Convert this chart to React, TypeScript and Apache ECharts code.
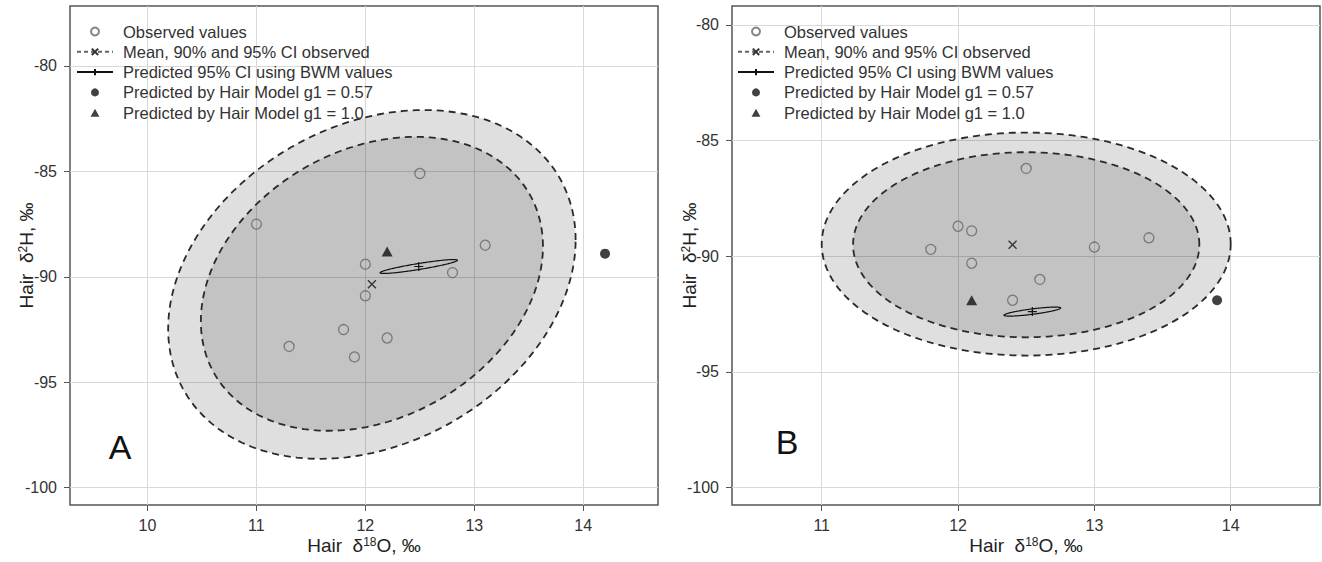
import React, { useEffect, useRef } from "react";
import * as echarts from "echarts";

// ---------- data ----------
const xTicksA = [10, 11, 12, 13, 14];
const xTicksB = [11, 12, 13, 14];
const yTicks = [-100, -95, -90, -85, -80];

const observedA = [
  [11.0, -87.5], [12.5, -85.1], [13.1, -88.5], [12.0, -89.4], [12.8, -89.8],
  [12.0, -90.9], [11.8, -92.5], [12.2, -92.9], [11.3, -93.3], [11.9, -93.8],
];
const meanA = [[12.06, -90.35]];
const bwmA = [[12.49, -89.51]];
const g057A = [[14.2, -88.9]];
const g10A = [[12.2, -88.8]];
// ellipse parameters: [centre x, centre y, half-extent x, half-extent y, correlation]
const ci95A = [[12.06, -90.36, 1.87, 8.27, 0.255]];
const ci90A = [[12.06, -90.33, 1.57, 6.97, 0.255]];
const bwmCiA = [[12.49, -89.51, 0.355, 0.33, 0.9]];

const observedB = [
  [12.5, -86.2], [12.0, -88.7], [12.1, -88.9], [11.8, -89.7], [12.1, -90.3],
  [12.6, -91.0], [12.4, -91.9], [13.0, -89.6], [13.4, -89.2],
];
const meanB = [[12.4, -89.5]];
const bwmB = [[12.545, -92.39]];
const g057B = [[13.9, -91.9]];
const g10B = [[12.1, -91.9]];
const ci95B = [[12.5, -89.47, 1.5, 4.82, 0.0]];
const ci90B = [[12.5, -89.5, 1.27, 4.0, 0.0]];
const bwmCiB = [[12.545, -92.39, 0.208, 0.195, 0.8]];

const legendNames = [
  "Observed values",
  "Mean, 90% and 95% CI observed",
  "Predicted 95% CI using BWM values",
  "Predicted by Hair Model g1 = 0.57",
  "Predicted by Hair Model g1 = 1.0",
];

// ---------- styles ----------
const FONT = "Liberation Sans, Arial, Helvetica, sans-serif";
const X_PATH = "path://M0,0L10,10M10,0L0,10";
const PLUS_PATH = "path://M5,0L5,10M0,5L10,5";
const TRI_PATH = "path://M5,0L10,9L0,9Z";

function ellipseRender(style: any) {
  return (params: any, api: any) => {
    const cx = api.value(0), cy = api.value(1), rx = api.value(2), ry = api.value(3), rho = api.value(4);
    const k = Math.sqrt(1 - rho * rho);
    const pts: number[][] = [];
    const n = 200;
    for (let i = 0; i < n; i++) {
      const t = (i / n) * Math.PI * 2;
      pts.push(api.coord([cx + rx * Math.cos(t), cy + ry * (rho * Math.cos(t) + k * Math.sin(t))]));
    }
    return { type: "polygon", shape: { points: pts }, style };
  };
}

const richSup = { sup: { fontSize: 12, verticalAlign: "top", color: "#222", fontFamily: FONT } };

function xAxis(gi: number, min: number, max: number, ticks: number[]) {
  return {
    type: "value", gridIndex: gi, min, max,
    name: "Hair  δ{sup|18}O, ‰", nameLocation: "middle", nameGap: 31, nameMoveOverlap: false,
    nameTextStyle: { fontSize: 19, color: "#222", fontFamily: FONT, rich: richSup },
    axisLine: { show: false },
    axisTick: { show: true, length: 6, customValues: ticks, lineStyle: { color: "#555", width: 1 } },
    axisLabel: { customValues: ticks, margin: 12, fontSize: 16, color: "#333", fontFamily: FONT },
    splitLine: { show: true, lineStyle: { color: "#d9d9d9", width: 1 } },
  };
}

function yAxis(gi: number, min: number, max: number, gap: number) {
  return {
    type: "value", gridIndex: gi, min, max,
    name: "Hair  δ{sup|2}H, ‰", nameLocation: "middle", nameGap: gap, nameRotate: 90, nameMoveOverlap: false,
    nameTextStyle: { fontSize: 19, color: "#222", fontFamily: FONT, rich: richSup },
    axisLine: { show: false },
    axisTick: { show: true, length: 6, customValues: yTicks, lineStyle: { color: "#555", width: 1 } },
    axisLabel: { customValues: yTicks, margin: 13, fontSize: 16, color: "#333", fontFamily: FONT },
    splitLine: { show: true, lineStyle: { color: "#d9d9d9", width: 1 } },
  };
}

const ringStyle = { fill: "rgba(0,0,0,0.125)", stroke: "#2a2a2a", lineWidth: 1.8, lineDash: [7, 5] };
const smallEllipseStyle = { fill: "none", stroke: "#111", lineWidth: 1.2 };

function panelSeries(gi: number, d: any) {
  return [
    { type: "custom", name: "ci95_" + gi, xAxisIndex: gi, yAxisIndex: gi, data: d.ci95, dimensions: ["x", "y", "rx", "ry", "rho"], encode: { x: 0, y: 1 }, renderItem: ellipseRender(ringStyle), z: 1, silent: true },
    { type: "custom", name: "ci90_" + gi, xAxisIndex: gi, yAxisIndex: gi, data: d.ci90, dimensions: ["x", "y", "rx", "ry", "rho"], encode: { x: 0, y: 1 }, renderItem: ellipseRender(ringStyle), z: 1, silent: true },
    { type: "custom", name: "bwmci_" + gi, xAxisIndex: gi, yAxisIndex: gi, data: d.bwmCi, dimensions: ["x", "y", "rx", "ry", "rho"], encode: { x: 0, y: 1 }, renderItem: ellipseRender(smallEllipseStyle), z: 3, silent: true },
    {
      type: "scatter", name: legendNames[0], xAxisIndex: gi, yAxisIndex: gi, data: d.obs,
      symbol: "circle", symbolSize: 10,
      itemStyle: { color: "rgba(0,0,0,0)", borderColor: "#666", borderWidth: 1.3 }, z: 4,
    },
    {
      type: "line", name: legendNames[1], xAxisIndex: gi, yAxisIndex: gi, data: d.mean,
      symbol: X_PATH, symbolSize: 8, showSymbol: true,
      itemStyle: { color: "none", borderColor: "#333", borderWidth: 1.3 },
      lineStyle: { color: "#666", width: 1.3, type: [4, 3] }, z: 4,
    },
    {
      type: "line", name: legendNames[2], xAxisIndex: gi, yAxisIndex: gi, data: d.bwm,
      symbol: PLUS_PATH, symbolSize: 9, showSymbol: true,
      itemStyle: { color: "none", borderColor: "#111", borderWidth: 1.2 },
      lineStyle: { color: "#111", width: 1.2, type: "solid" }, z: 4,
    },
    {
      type: "scatter", name: legendNames[3], xAxisIndex: gi, yAxisIndex: gi, data: d.g057,
      symbol: "circle", symbolSize: 10, itemStyle: { color: "#111" }, z: 4,
    },
    {
      type: "scatter", name: legendNames[4], xAxisIndex: gi, yAxisIndex: gi, data: d.g10,
      symbol: TRI_PATH, symbolSize: 11, symbolKeepAspect: true, itemStyle: { color: "#111" }, z: 4,
    },
  ];
}

function legend(left: number) {
  return {
    show: true, orient: "vertical", left, top: 17.5,
    itemWidth: 36, itemHeight: 8, itemGap: 2.3,
    symbolKeepAspect: true,
    selectedMode: false,
    data: legendNames.map((n) => ({ name: n })),
    textStyle: { fontSize: 16.5, lineHeight: 18, color: "#333", fontFamily: FONT, padding: [0, 0, 0, 5] },
  };
}

export default function App() {
  const ref = useRef<HTMLDivElement>(null);
  useEffect(() => {
    document.body.style.margin = "0";
    if (!ref.current) return;
    const chart = echarts.init(ref.current, null, { renderer: "svg" });
    const option: any = {
      animation: false,
      backgroundColor: "#fff",
      textStyle: { fontFamily: FONT },
      grid: [
        { left: 70, top: 6, width: 588, height: 499, show: true, borderColor: "#555", borderWidth: 1.5, backgroundColor: "transparent", outerBoundsMode: "none" },
        { left: 732, top: 6, width: 588, height: 499, show: true, borderColor: "#555", borderWidth: 1.5, backgroundColor: "transparent", outerBoundsMode: "none" },
      ],
      xAxis: [xAxis(0, 9.289, 14.686, xTicksA), xAxis(1, 10.342, 14.655, xTicksB)],
      yAxis: [yAxis(0, -100.82, -77.156, 34), yAxis(1, -100.75, -79.18, 33)],
      legend: [legend(71), legend(732)],
      series: [
        ...panelSeries(0, { ci95: ci95A, ci90: ci90A, bwmCi: bwmCiA, obs: observedA, mean: meanA, bwm: bwmA, g057: g057A, g10: g10A }),
        ...panelSeries(1, { ci95: ci95B, ci90: ci90B, bwmCi: bwmCiB, obs: observedB, mean: meanB, bwm: bwmB, g057: g057B, g10: g10B }),
      ],
      graphic: [
        { type: "text", x: 120, y: 447, style: { text: "A", fontSize: 34, fontFamily: FONT, fill: "#111", textAlign: "center", textVerticalAlign: "middle" } },
        { type: "text", x: 787, y: 442, style: { text: "B", fontSize: 34, fontFamily: FONT, fill: "#111", textAlign: "center", textVerticalAlign: "middle" } },
      ],
    };
    chart.setOption(option);
    return () => chart.dispose();
  }, []);
  return <div ref={ref} style={{ width: 1322, height: 562 }} />;
}
